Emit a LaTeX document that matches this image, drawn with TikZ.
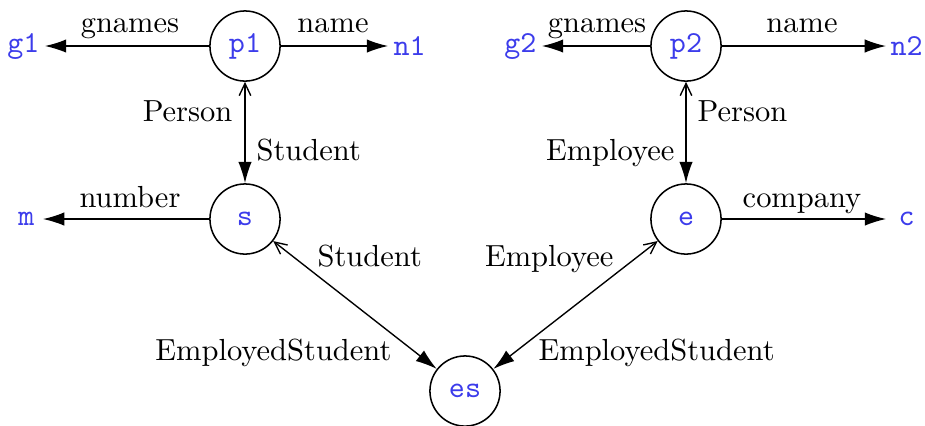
\documentclass[tikz,border=0pt]{standalone}
\usetikzlibrary{arrows.meta}
\definecolor{idblue}{RGB}{60,60,235}
\begin{document}
\begin{tikzpicture}[x=0.3279pt,y=-0.3279pt,
  obj/.style={circle,draw,line width=0.5pt,minimum size=23pt,inner sep=0pt,
              font=\ttfamily,text=idblue},
  val/.style={font=\ttfamily,text=idblue,inner sep=0pt},
  lbl/.style={inner sep=0pt,font=\rmfamily},
  link/.style={line width=0.45pt,-{Latex[length=7pt,width=4.4pt]}},
  isa/.style={line width=0.45pt,{Straight Barb[length=4pt,width=3.8pt]}-{Latex[length=7pt,width=4.4pt]}}]
\useasboundingbox (0,0) rectangle (925,425);

% objects
\node[obj] (p1) at (245,46) {p1};
\node[obj] (s)  at (245,219) {s};
\node[obj] (p2) at (686,46) {p2};
\node[obj] (e)  at (686,219) {e};
\node[obj] (es) at (465,391) {es};

% attribute values
\node[val,anchor=east] (g1) at (40,46) {g1};
\node[val,anchor=west] (n1) at (393,46) {n1};
\node[val,anchor=east] (m)  at (35,219) {m};
\node[val,anchor=east] (g2) at (537,46) {g2};
\node[val,anchor=west] (n2) at (890,46) {n2};
\node[val,anchor=west] (c)  at (898,219) {c};

% attribute links
\draw[link] (p1) -- ([xshift=1.6pt]g1.east);
\draw[link] (p1) -- ([xshift=-1.6pt]n1.west);
\draw[link] (s)  -- ([xshift=2.6pt]m.east);
\draw[link] (p2) -- ([xshift=1.6pt]g2.east);
\draw[link] (p2) -- ([xshift=-1.3pt]n2.west);
\draw[link] (e)  -- ([xshift=-3.9pt]c.west);

% inheritance links
\draw[isa] (p1) -- (s);
\draw[isa] (s)  -- (es);
\draw[isa] (p2) -- (e);
\draw[isa] (e)  -- (es);

% labels
\node[lbl,anchor=base] (l1) at (130,32) {gnames};
\node[lbl,anchor=base] (l2) at (333,32) {name};
\node[lbl,anchor=base east] (l3) at (233,121) {Person};
\node[lbl,anchor=base west] (l4) at (256,160) {Student};
\node[lbl,anchor=base] (l5) at (130,207) {number};
\node[lbl,anchor=base west] (l6) at (317,266) {Student};
\node[lbl,anchor=base east] (l7) at (392,360) {EmployedStudent};
\node[lbl,anchor=base] (l8) at (597,32) {gnames};
\node[lbl,anchor=base] (l9) at (802,32) {name};
\node[lbl,anchor=base west] (l10) at (697,121) {Person};
\node[lbl,anchor=base east] (l11) at (675,160) {Employee};
\node[lbl,anchor=base] (l12) at (802,207) {company};
\node[lbl,anchor=base east] (l13) at (614,266) {Employee};
\node[lbl,anchor=base west] (l14) at (538,360) {EmployedStudent};
\end{tikzpicture}
\end{document}
